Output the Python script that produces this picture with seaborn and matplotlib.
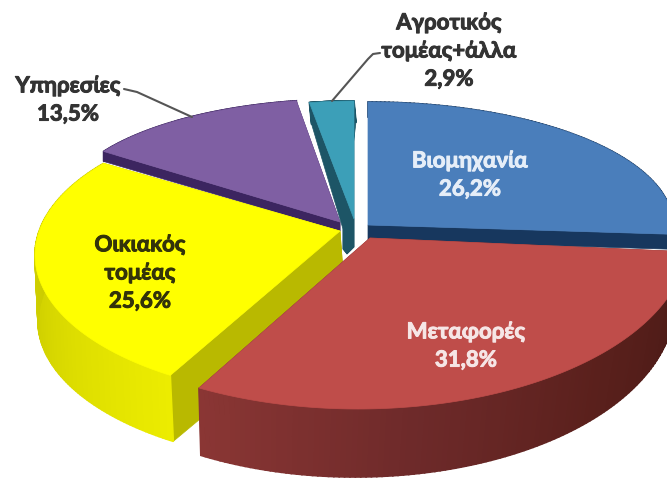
import numpy as np
import matplotlib
matplotlib.use("Agg")
import matplotlib.pyplot as plt
import matplotlib.patheffects as pe
import seaborn as sns

# Final energy consumption by sector, percent
sectors = ["Βιομηχανία", "Μεταφορές", "Οικιακός\nτομέας", "Υπηρεσίες", "Αγροτικός\nτομέας+άλλα"]
shares = [26.2, 31.8, 25.6, 13.5, 2.9]

top_colors = ["#4a7ebb", "#bf4d4a", "#ffff00", "#7f5fa3", "#3c9fb8"]
cut_colors = ["#17375e", "#6e2a2a", "#b9b900", "#3c2560", "#1d5566"]
rim_colors = [
    ["#17375e", "#17375e"],
    ["#4a1a16", "#5a201c", "#6e2a2a", "#8a3634"],
    ["#ecec00", "#d2d200", "#c4c400"],
    ["#3c2560", "#3c2560"],
    ["#1d5566", "#1d5566"],
]
label_colors = ["#e6eef8", "#f6e6e6", "#33330a", "#333333", "#333333"]

# Layout of each exploded sector in canvas pixels; a perspective view gives
# every slice its own ellipse for the upper face and for the lower face
layout = [
    dict(c=(368, 226), r=(305, 123), apex=(368, 226), c2=(368, 241), r2=(305, 123),
         low=[(368, 241)], phase=(0, 0)),
    dict(c=(358, 240), r=(330, 170), apex=(370, 239), c2=(355, 303), r2=(320, 175),
         low=[(370, 300)], phase=(0, 0)),
    dict(c=(335, 256), r=(300, 144), apex=(340, 232), c2=(338, 322), r2=(300, 144),
         low=[(345, 299)], phase=(-4.5, -8.6)),
    dict(c=(348, 208), r=(285, 108), apex=(340, 223), c2=(348, 218), r2=(285, 108),
         low=[(340, 232)], phase=(0, 0)),
    dict(c=(354, 202), r=(246, 100), apex=(354, 220), c2=(356, 223), r2=(246, 100),
         low=[(343, 230), (343, 250), (347, 255), (354, 248)], phase=(0, 0)),
]
label_spots = [(470, 176), (466, 347), (140, 274), (68, 101), (449, 52)]
leaders = [
    None, None, None,
    ([124, 137, 192], [90, 93, 118]),
    ([332, 368, 373, 380], [102, 60, 55, 54]),
]
draw_order = [3, 4, 0, 2, 1]

sns.set_theme(style="white")
plt.rcParams["font.family"] = ["Lato", "Open Sans", "DejaVu Sans"]

fig = plt.figure(figsize=(6.67, 4.81), dpi=100, facecolor="white")
ax = fig.add_axes([0, 0, 1, 1])
ax.set_xlim(0, 667)
ax.set_ylim(481, 0)
ax.axis("off")

# Slice boundaries run clockwise from twelve o'clock
edges = 90 - 3.6 * np.concatenate([[0], np.cumsum(shares)])


def arc(centre, radii, theta):
    t = np.radians(theta)
    return centre[0] + radii[0] * np.cos(t), centre[1] - radii[1] * np.sin(t)


for z, i in enumerate(draw_order):
    geom = layout[i]
    theta = np.linspace(edges[i] + geom["phase"][0], edges[i + 1] + geom["phase"][1], 120)
    tx, ty = arc(geom["c"], geom["r"], theta)
    bx, by = arc(geom["c2"], geom["r2"], theta)
    ax0, ay0 = geom["apex"]
    lx, ly = zip(*geom["low"])
    base = z * 10 + 2

    # Cut faces along the two radial edges
    for k in (0, -1):
        ax.fill([ax0, tx[k], bx[k], *lx], [ay0, ty[k], by[k], *ly],
                color=cut_colors[i], lw=0.5, zorder=base)

    # Outer rim, shaded strip by strip around the arc
    shades = sns.blend_palette(rim_colors[i], n_colors=len(theta) - 1)
    for j, shade in enumerate(shades):
        ax.fill([tx[j], tx[j + 1], bx[j + 1], bx[j]],
                [ty[j], ty[j + 1], by[j + 1], by[j]],
                color=shade, lw=1.2, zorder=base + 1)

    # Upper face
    ax.fill(np.r_[ax0, tx], np.r_[ay0, ty], color=top_colors[i], lw=0.5, zorder=base + 2)

for i, name in enumerate(sectors):
    value = f"{shares[i]:.1f}".replace(".", ",") + "%"
    x, y = label_spots[i]
    label = ax.text(x, y, f"{name}\n{value}", color=label_colors[i], fontsize=16,
                    fontweight="bold", ha="center", va="center", linespacing=1.42, zorder=100)
    # A thin outline in the text colour gives the labels a heavier weight
    label.set_path_effects([pe.withStroke(linewidth=0.7, foreground=label_colors[i])])
    if leaders[i] is not None:
        ax.plot(*leaders[i], color="#555555", lw=1.5, zorder=101, solid_joinstyle="round")

fig.savefig("out.png", dpi=100, facecolor="white")
